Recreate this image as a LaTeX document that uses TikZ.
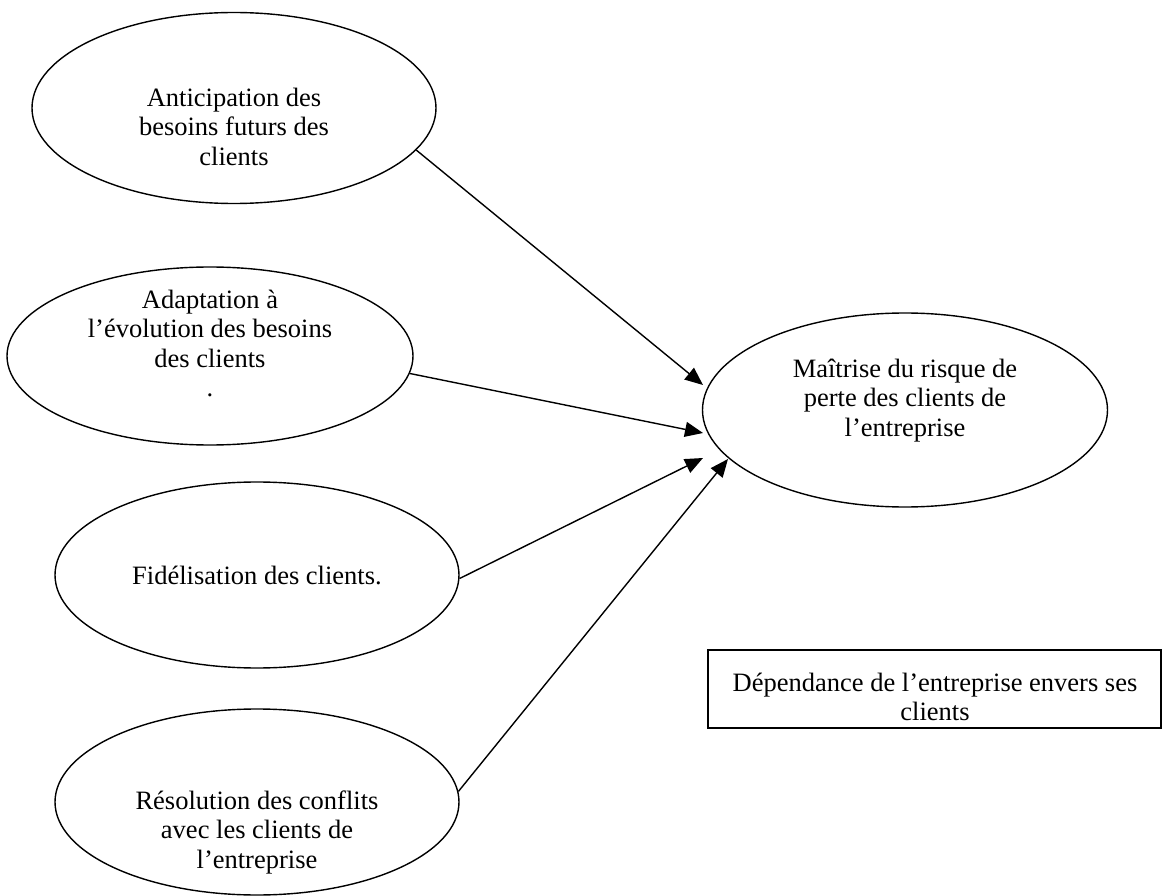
\documentclass[tikz,border=0pt]{standalone}
\usepackage{fontspec}
\setmainfont{Liberation Serif}
\usetikzlibrary{shapes.geometric,arrows.meta}
\begin{document}
\begin{tikzpicture}[x=1pt,y=-1pt,
  oval/.style={ellipse,draw,line width=1.4pt,inner sep=0pt},
  txt/.style={font=\fontsize{26.5}{29.5}\selectfont,align=center,anchor=north,inner sep=0pt},
  arr/.style={line width=1.4pt,-{Triangle[length=18pt,width=15pt]}}]
\useasboundingbox (0,0) rectangle (1163,896);
% ellipses
\node[oval,minimum width=404pt,minimum height=191pt] (e1) at (234,108) {};
\node[oval,minimum width=406pt,minimum height=178pt] (e2) at (210,356) {};
\node[oval,minimum width=404pt,minimum height=186pt] (e3) at (257,575) {};
\node[oval,minimum width=404pt,minimum height=186pt] (e4) at (257,802) {};
\node[oval,minimum width=405pt,minimum height=194pt] (e5) at (905,410) {};
% box
\node[draw,line width=1.4pt,minimum width=453pt,minimum height=78pt,inner sep=0pt] (box) at (934.5,689) {};
% texts
\node[txt] (e1t) at (234,106-20.65) {\strut Anticipation des\\\strut besoins futurs des\\\strut clients};
\node[txt] (e2t) at (210,308-20.65) {\strut Adaptation à\\\strut l’évolution des besoins\\\strut des clients\\\strut .};
\node[txt] (e3t) at (257,584-20.65) {\strut Fidélisation des clients.};
\node[txt] (e4t) at (257,809-20.65) {\strut Résolution des conflits\\\strut avec les clients de\\\strut l’entreprise};
\node[txt] (e5t) at (905,377-20.65) {\strut Maîtrise du risque de\\\strut perte des clients de\\\strut l’entreprise};
\node[txt] (boxt) at (935,691-20.65) {\strut Dépendance de l’entreprise envers ses\\\strut clients};
% arrow tips
\coordinate (t1) at (703,385);
\coordinate (t2) at (703,433);
\coordinate (t3) at (703,458);
\coordinate (t4) at (728,459);
\draw[arr] (e1.-13) -- (t1);
\draw[arr] (e2.-5) -- (t2);
\draw[arr] (e3.-1) -- (t3);
\draw[arr] (e4.3) -- (t4);
\end{tikzpicture}
\end{document}
